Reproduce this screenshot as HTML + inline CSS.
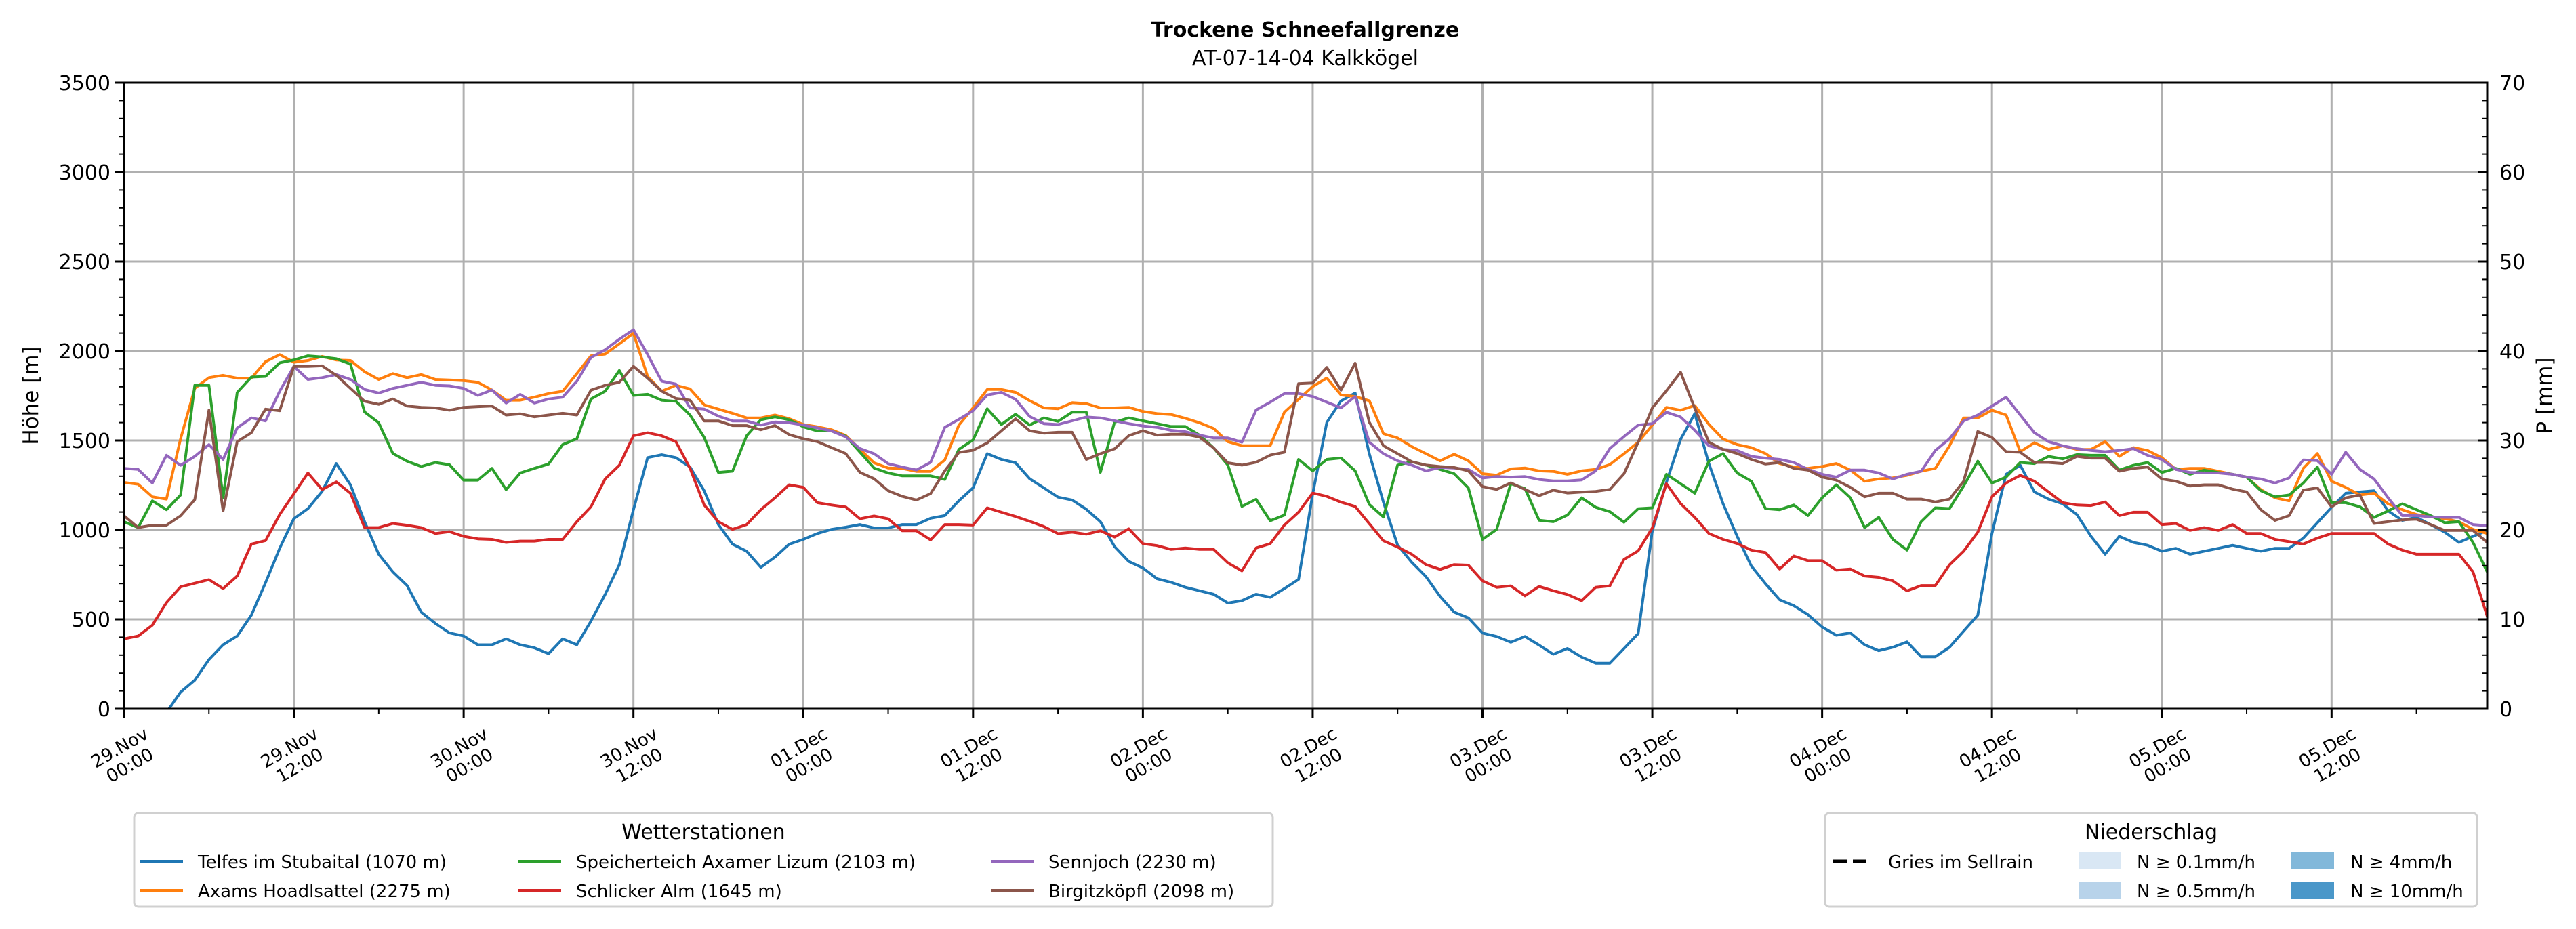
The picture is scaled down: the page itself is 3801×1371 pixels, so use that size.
<!DOCTYPE html>
<html><head><meta charset="utf-8"><style>
html,body{margin:0;padding:0;background:#fff;}
svg{display:block;font-family:"DejaVu Sans","Liberation Sans",sans-serif;}
</style></head><body>
<svg id="chart" width="3801" height="1371" viewBox="0 0 3801 1371" xmlns="http://www.w3.org/2000/svg">
<rect width="3801" height="1371" fill="#fff"/>
<text x="1926" y="54" text-anchor="middle" font-size="30" font-weight="bold">Trockene Schneefallgrenze</text>
<text x="1926" y="96" text-anchor="middle" font-size="30">AT-07-14-04 Kalkkögel</text>
<defs><clipPath id="plotclip"><rect x="183" y="122" width="3487" height="924"/></clipPath></defs>
<g id="grid"></g>
<g id="series" clip-path="url(#plotclip)"></g>
<g id="axes"></g>
<text transform="translate(56,584) rotate(-90)" text-anchor="middle" font-size="31">Höhe [m]</text>
<text transform="translate(3765,584) rotate(-90)" text-anchor="middle" font-size="31">P [mm]</text>

<g>
<rect x="198" y="1200" width="1680" height="138" rx="6" fill="#fff" stroke="#d0d0d0" stroke-width="3"/>
<text x="1038" y="1238" text-anchor="middle" font-size="30">Wetterstationen</text>
<line x1="207" y1="1271" x2="270" y2="1271" stroke="#1f77b4" stroke-width="4"/><text x="292" y="1281" font-size="26">Telfes im Stubaital (1070 m)</text>
<line x1="207" y1="1314" x2="270" y2="1314" stroke="#ff7f0e" stroke-width="4"/><text x="292" y="1324" font-size="26">Axams Hoadlsattel (2275 m)</text>
<line x1="765" y1="1271" x2="828" y2="1271" stroke="#2ca02c" stroke-width="4"/><text x="850" y="1281" font-size="26">Speicherteich Axamer Lizum (2103 m)</text>
<line x1="765" y1="1314" x2="828" y2="1314" stroke="#d62728" stroke-width="4"/><text x="850" y="1324" font-size="26">Schlicker Alm (1645 m)</text>
<line x1="1462" y1="1271" x2="1525" y2="1271" stroke="#9467bd" stroke-width="4"/><text x="1547" y="1281" font-size="26">Sennjoch (2230 m)</text>
<line x1="1462" y1="1314" x2="1525" y2="1314" stroke="#8c564b" stroke-width="4"/><text x="1547" y="1324" font-size="26">Birgitzköpfl (2098 m)</text>
</g>
<g>
<rect x="2693" y="1200" width="962" height="138" rx="6" fill="#fff" stroke="#d0d0d0" stroke-width="3"/>
<text x="3174" y="1238" text-anchor="middle" font-size="30">Niederschlag</text>
<line x1="2705" y1="1271" x2="2761" y2="1271" stroke="#000" stroke-width="5" stroke-dasharray="20,9"/><text x="2786" y="1281" font-size="26">Gries im Sellrain</text>
<rect x="3067" y="1258" width="63" height="25" fill="#d9e7f4"/><text x="3153" y="1281" font-size="26">N ≥ 0.1mm/h</text>
<rect x="3067" y="1301" width="63" height="25" fill="#b8d3ea"/><text x="3153" y="1324" font-size="26">N ≥ 0.5mm/h</text>
<rect x="3381" y="1258" width="63" height="25" fill="#82b8da"/><text x="3468" y="1281" font-size="26">N ≥ 4mm/h</text>
<rect x="3381" y="1301" width="63" height="25" fill="#4a97c9"/><text x="3468" y="1324" font-size="26">N ≥ 10mm/h</text>
</g>
</svg>
<script>
const hoursMax = 167;
const yTicks = [0,500,1000,1500,2000,2500,3000,3500];
const y2Ticks = [0,10,20,30,40,50,60,70];
const xTickDays = ["29.Nov","29.Nov","30.Nov","30.Nov","01.Dec","01.Dec","02.Dec","02.Dec","03.Dec","03.Dec","04.Dec","04.Dec","05.Dec","05.Dec"];
const xTickTimes = ["00:00","12:00","00:00","12:00","00:00","12:00","00:00","12:00","00:00","12:00","00:00","12:00","00:00","12:00"];
const telfes = [-350,-230,-110,-20,93,160,275,358,407,523,705,897,1063,1119,1215,1371,1252,1046,864,765,689,540,477,424,407,358,358,391,358,341,308,391,358,490,639,805,1113,1404,1420,1404,1351,1218,1030,920,881,791,848,920,947,980,1003,1015,1030,1011,1011,1030,1030,1065,1080,1163,1235,1426,1394,1375,1286,1235,1183,1167,1115,1046,907,824,787,727,707,679,660,640,591,604,640,623,672,723,1200,1601,1721,1765,1426,1155,915,819,739,628,540,508,423,404,372,404,356,305,337,289,255,255,337,420,995,1266,1506,1650,1370,1146,964,798,699,609,576,526,457,411,424,358,325,344,374,291,291,344,434,523,980,1311,1361,1212,1172,1146,1086,964,864,964,930,914,881,897,864,881,897,914,897,881,897,897,954,1040,1126,1205,1212,1219,1106,1053,1070,1030,987,930,964,997];
const axams = [1265,1255,1185,1172,1510,1791,1851,1864,1848,1848,1940,1980,1937,1947,1970,1950,1947,1884,1841,1874,1851,1868,1841,1838,1834,1825,1782,1725,1725,1742,1762,1775,1874,1973,1983,2040,2099,1858,1775,1808,1788,1699,1675,1652,1626,1626,1642,1622,1589,1576,1560,1528,1451,1375,1346,1343,1327,1327,1391,1586,1682,1785,1785,1769,1722,1682,1677,1711,1706,1682,1682,1685,1662,1650,1645,1624,1599,1567,1493,1471,1471,1471,1658,1730,1801,1849,1754,1746,1722,1538,1514,1466,1426,1386,1423,1386,1314,1306,1341,1346,1330,1327,1311,1330,1338,1365,1426,1490,1586,1685,1669,1695,1590,1508,1477,1460,1427,1371,1351,1344,1354,1371,1334,1272,1285,1291,1305,1328,1344,1470,1626,1626,1669,1642,1437,1487,1450,1470,1450,1450,1493,1411,1460,1444,1404,1338,1344,1344,1328,1311,1295,1225,1179,1162,1344,1427,1272,1238,1195,1205,1146,1113,1086,1073,1063,1046,1003,980];
const speicher = [1046,1013,1162,1113,1195,1808,1808,1179,1768,1854,1858,1934,1950,1973,1967,1957,1927,1659,1599,1427,1384,1354,1377,1364,1278,1278,1344,1225,1318,1344,1368,1477,1510,1732,1775,1891,1752,1758,1725,1719,1642,1517,1321,1328,1526,1616,1632,1616,1576,1553,1553,1524,1435,1346,1318,1302,1302,1302,1282,1450,1503,1677,1589,1647,1586,1626,1607,1658,1658,1322,1602,1626,1610,1594,1578,1578,1530,1458,1362,1131,1171,1051,1083,1394,1330,1394,1402,1330,1142,1072,1362,1381,1362,1338,1314,1234,947,1003,1258,1231,1054,1046,1083,1179,1126,1102,1043,1118,1123,1311,1258,1205,1384,1427,1318,1272,1119,1113,1139,1080,1179,1252,1179,1013,1070,947,887,1046,1123,1119,1245,1384,1262,1295,1377,1371,1411,1397,1421,1417,1417,1334,1361,1377,1321,1344,1311,1334,1321,1311,1295,1219,1185,1195,1262,1351,1152,1152,1129,1070,1106,1146,1113,1080,1040,1046,930,765];
const schlicker = [391,407,467,593,682,702,722,672,742,921,940,1086,1202,1318,1225,1268,1205,1013,1013,1036,1026,1013,980,990,964,950,947,930,937,937,947,947,1046,1129,1285,1361,1526,1543,1526,1493,1344,1139,1046,1003,1030,1113,1179,1252,1238,1152,1139,1128,1062,1078,1062,995,995,944,1030,1030,1027,1123,1099,1075,1048,1019,979,987,976,995,960,1006,923,912,891,899,891,891,816,771,899,923,1027,1099,1206,1187,1155,1131,1035,939,904,864,806,779,806,803,715,679,687,631,684,660,639,604,679,687,835,883,1011,1258,1147,1070,980,947,924,887,874,781,854,828,828,775,781,742,735,715,659,689,689,805,881,987,1185,1262,1305,1272,1212,1152,1139,1136,1156,1080,1099,1099,1030,1036,997,1013,997,1030,980,980,947,934,921,954,980,980,980,980,921,887,864,864,864,864,765,517];
const sennjoch = [1344,1338,1262,1417,1361,1411,1477,1394,1570,1626,1609,1775,1914,1841,1851,1868,1841,1785,1765,1791,1808,1825,1808,1805,1791,1752,1782,1709,1758,1709,1732,1742,1831,1964,2007,2066,2119,1980,1831,1815,1682,1675,1636,1609,1609,1586,1603,1599,1586,1570,1553,1520,1455,1426,1370,1351,1335,1378,1573,1618,1666,1754,1769,1730,1634,1594,1589,1610,1631,1626,1610,1594,1581,1573,1557,1549,1530,1514,1514,1490,1670,1714,1762,1762,1746,1714,1682,1746,1490,1426,1386,1362,1330,1349,1346,1338,1290,1298,1295,1298,1282,1274,1274,1279,1330,1455,1522,1586,1594,1658,1631,1557,1470,1450,1444,1411,1401,1394,1377,1338,1311,1295,1334,1334,1318,1285,1311,1328,1444,1510,1609,1642,1692,1742,1642,1543,1493,1470,1454,1444,1437,1444,1454,1417,1394,1338,1321,1318,1318,1311,1295,1285,1262,1291,1391,1387,1311,1434,1338,1285,1179,1080,1080,1073,1070,1070,1030,1023];
const birgitz = [1079,1013,1026,1026,1079,1169,1669,1106,1493,1543,1675,1666,1914,1914,1917,1864,1791,1719,1702,1732,1692,1685,1682,1669,1685,1689,1692,1642,1649,1632,1642,1652,1642,1781,1808,1825,1914,1848,1775,1735,1725,1609,1609,1583,1583,1560,1583,1533,1510,1493,1460,1427,1322,1286,1219,1187,1167,1203,1330,1433,1445,1486,1554,1621,1554,1541,1546,1546,1394,1426,1453,1527,1554,1530,1535,1535,1519,1458,1375,1362,1378,1418,1434,1817,1821,1908,1781,1932,1602,1471,1426,1381,1362,1354,1349,1330,1242,1226,1263,1226,1191,1222,1206,1211,1215,1226,1314,1490,1682,1778,1881,1680,1490,1450,1427,1394,1368,1377,1344,1334,1295,1278,1238,1185,1205,1205,1172,1172,1156,1172,1272,1550,1517,1437,1434,1377,1377,1371,1411,1401,1401,1328,1344,1351,1285,1272,1245,1252,1252,1228,1212,1113,1053,1080,1222,1235,1129,1179,1195,1036,1046,1056,1060,1030,997,997,997,930];

const NS="http://www.w3.org/2000/svg";
const L=183,R=3670,T=122,B=1046,YMAX=3500,Y2MAX=70;
function xs(h){return L+(R-L)*h/hoursMax;}
function ys(v){return B-(B-T)*v/YMAX;}
function ys2(v){return B-(B-T)*v/Y2MAX;}
function mk(tag,attrs,parent){const e=document.createElementNS(NS,tag);for(const k in attrs)e.setAttribute(k,attrs[k]);parent.appendChild(e);return e;}
const grid=document.getElementById('grid'),axes=document.getElementById('axes'),ser=document.getElementById('series');

yTicks.forEach(v=>{
  const g=mk('line',{x1:L,x2:R,y1:ys(v),y2:ys(v),stroke:'#b0b0b0','stroke-width':3},grid);
  
  
  const t=mk('text',{x:163,y:ys(v)+11,'text-anchor':'end','font-size':30},axes);
  t.textContent=v;
  
  
  mk('line',{x1:169,x2:L,y1:ys(v),y2:ys(v),stroke:'#000','stroke-width':3},axes);
});
for(let v=0;v<=YMAX;v+=100){ if(v%500) mk('line',{x1:175,x2:L,y1:ys(v),y2:ys(v),stroke:'#000','stroke-width':2},axes); }
y2Ticks.forEach(v=>{
  const t=mk('text',{x:3688,y:ys2(v)+11,'font-size':30},axes);
  t.textContent=v;
  
  
  mk('line',{x1:R-14,x2:R,y1:ys2(v),y2:ys2(v),stroke:'#000','stroke-width':3},axes);
});
for(let v=0;v<=Y2MAX;v+=2){ if(v%10) mk('line',{x1:R-8,x2:R,y1:ys2(v),y2:ys2(v),stroke:'#000','stroke-width':2},axes); }
xTickDays.forEach((d,i)=>{
  const x=xs(i*12);
  const g=mk('line',{x1:x,x2:x,y1:T,y2:B,stroke:'#b0b0b0','stroke-width':3},grid);
  
  
  mk('line',{x1:x,x2:x,y1:B,y2:B+14,stroke:'#000','stroke-width':3},axes);
  const t=mk('text',{transform:`translate(${x+2},${B+72}) rotate(-30)`,'text-anchor':'middle','font-size':26},axes);
  
  
  mk('tspan',{x:0,dy:-8},t).textContent=d;
  mk('tspan',{x:0,dy:30},t).textContent=xTickTimes[i];
});
for(let h=6;h<=hoursMax;h+=12){ mk('line',{x1:xs(h),x2:xs(h),y1:B,y2:B+8,stroke:'#000','stroke-width':2},axes); }
const sp=mk('rect',{x:L,y:T,width:R-L,height:B-T,fill:'none',stroke:'#000','stroke-width':3},axes);



const seriesList=[[telfes,'#1f77b4','telfes-line'],[axams,'#ff7f0e','axams-line'],[speicher,'#2ca02c','speicherteich-line'],[schlicker,'#d62728','schlicker-line'],[sennjoch,'#9467bd','sennjoch-line'],[birgitz,'#8c564b','birgitzkoepfl-line']];
seriesList.forEach(s=>{
  const d=s[0].map((v,i)=>(i?'L':'M')+xs(i).toFixed(1)+','+ys(v).toFixed(1)).join('');
  const p=mk('path',{d:d,fill:'none',stroke:s[1],'stroke-width':4,'stroke-linejoin':'round'},ser);
  
  
});
</script>
</body></html>
